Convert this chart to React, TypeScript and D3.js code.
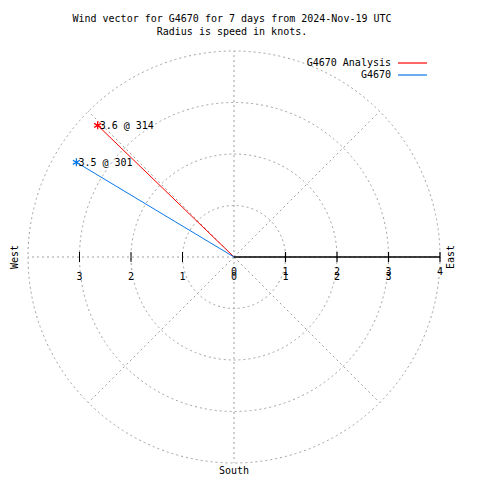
import React from "react";
import * as d3 from "d3";

const titleLines = ["Wind vector for G4670 for 7 days from 2024-Nov-19 UTC", "Radius is speed in knots."];
const seriesNames = ["G4670 Analysis", "G4670"];
const seriesColors = ["#ff0000", "#0a78e6"];
const speeds = [3.68, 3.57];
const directions = [314, 301];
const ringValues = [1, 2, 3, 4];
const rightTicks = [0, 1, 2, 3, 4];
const secondTicks = [0, 1, 2, 3];
const leftTicks = [1, 2, 3];
const spokeAngles = [0, 45, 90, 135, 180, 225, 270, 315];

const W = 480;
const H = 480;
const cx = 234;
const cy = 257;
const FONT = "'DejaVu Sans Mono', monospace";

export default function App() {
  const r = d3.scaleLinear().domain([0, 4]).range([0, 206]);
  const pt = (speed: number, deg: number) => {
    const a = (deg * Math.PI) / 180;
    return [cx + r(speed) * Math.sin(a), cy - r(speed) * Math.cos(a)];
  };
  const grid = "#a0a0a0";
  const dash = "2,3";
  const lineGen = d3.line();
  const star = d3.symbol(d3.symbolAsterisk, 45)() || "";
  const fmt = (s: number) => (Math.floor(s * 10) / 10).toFixed(1);

  return (
    <svg width={W} height={H} style={{ position: "absolute", left: 0, top: 0, background: "#fff" }}
      fontFamily={FONT} fontSize={10}>
      <rect x={0} y={0} width={W} height={H} fill="#fff" />
      {titleLines.map((t, i) => (
        <text key={t} x={232} y={22 + i * 13} textAnchor="middle" fill="#000">{t}</text>
      ))}
      {ringValues.map((v) => (
        <circle key={v} cx={cx} cy={cy} r={r(v)} fill="none" stroke={grid} strokeDasharray={dash} strokeWidth={1} />
      ))}
      {spokeAngles.map((a) => {
        const [x, y] = pt(4, a);
        return <line key={a} x1={cx} y1={cy} x2={x} y2={y} stroke={grid} strokeDasharray={dash} strokeWidth={1} />;
      })}
      <line x1={cx} y1={cy} x2={cx + r(4)} y2={cy} stroke="#000" strokeWidth={1.5} />
      {rightTicks.slice(1).map((v) => (
        <line key={"rt" + v} x1={cx + r(v)} x2={cx + r(v)} y1={cy - 5} y2={cy + 5} stroke="#000" strokeWidth={1.2} />
      ))}
      {leftTicks.map((v) => (
        <line key={"lt" + v} x1={cx - r(v)} x2={cx - r(v)} y1={cy - 5} y2={cy + 5} stroke="#000" strokeWidth={1} />
      ))}
      {rightTicks.map((v) => (
        <text key={"rl" + v} x={cx + r(v)} y={cy + 18} textAnchor="middle" fill="#000">{v}</text>
      ))}
      {secondTicks.map((v) => (
        <text key={"sl" + v} x={cx + r(v)} y={cy + 23} textAnchor="middle" fill="#000">{v}</text>
      ))}
      {leftTicks.map((v) => (
        <text key={"ll" + v} x={cx - r(v)} y={cy + 23} textAnchor="middle" fill="#000">{v}</text>
      ))}
      <text transform={`translate(${cx + r(4) + 14},${cy}) rotate(-90)`} textAnchor="middle" fill="#000">East</text>
      <text transform={`translate(18,${cy}) rotate(-90)`} textAnchor="middle" fill="#000">West</text>
      <text x={cx} y={474} textAnchor="middle" fill="#000">South</text>
      {speeds.map((s, i) => {
        const [x, y] = pt(s, directions[i]);
        return (
          <g key={"v" + i}>
            <path d={lineGen([[cx, cy], [x, y]]) || ""} stroke={seriesColors[i]} strokeWidth={1} fill="none" />
            <path d={star} transform={`translate(${x},${y})`} stroke={seriesColors[i]} strokeWidth={1.3} fill="none" />
            <text x={x + 2} y={y + 4} fill="#000">{`${fmt(s)} @ ${directions[i]}`}</text>
          </g>
        );
      })}
      {seriesNames.map((n, i) => (
        <g key={n}>
          <text x={391} y={66 + i * 12} textAnchor="end" fill="#000">{n}</text>
          <line x1={398} x2={427} y1={63 + i * 12} y2={63 + i * 12} stroke={seriesColors[i]} strokeWidth={1.2} />
        </g>
      ))}
    </svg>
  );
}
